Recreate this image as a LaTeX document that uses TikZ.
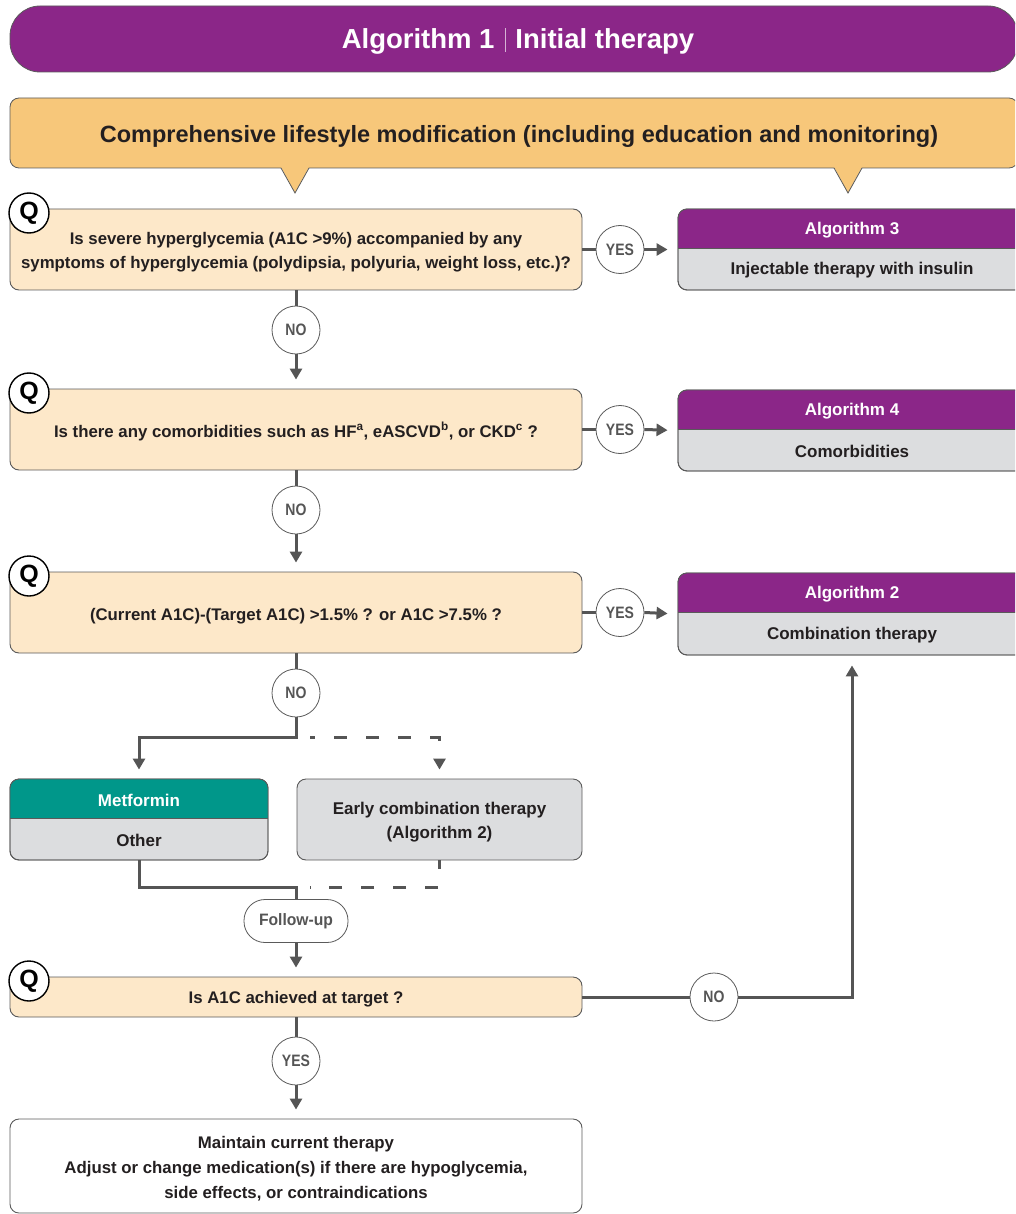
\documentclass[tikz,border=0pt]{standalone}
\usepackage{fontspec}
\setmainfont{Liberation Sans}
\usepackage{graphicx}
\usetikzlibrary{arrows.meta}
\definecolor{purp}{HTML}{8B2688}
\definecolor{orng}{HTML}{F7C77A}
\definecolor{peach}{HTML}{FDE8C9}
\definecolor{lgray}{HTML}{DCDDDF}
\definecolor{tealc}{HTML}{00978A}
\definecolor{lineg}{HTML}{555555}
\definecolor{bord}{HTML}{5A5A5A}
\definecolor{txt}{HTML}{231F20}
\newcommand{\cond}[1]{\scalebox{0.85}[1]{#1}}
\newcommand{\twobox}[9]{%
  \node[boxbase, minimum width={(#3)-(#2)}, minimum height={(#6)-(#4)}] (#1) at ({((#2)+(#3))/2},{((#4)+(#6))/2}) {};
  \begin{scope}
    \clip[rounded corners=9pt] (#2,#4) rectangle (#3,#6);
    \fill[#7] (#2,#4) rectangle (#3,#5);
  \end{scope}
  \draw[bord, line width=0.9pt] (#2,#5) -- (#3,#5);
  \draw[bord, line width=0.9pt, rounded corners=9pt] (#2,#4) rectangle (#3,#6);
  \node[hdtext] (#1-top) at ({((#2)+(#3))/2},{((#4)+(#5))/2+1.5}) {#8};
  \node[bdtext] (#1-bot) at ({((#2)+(#3))/2},{((#5)+(#6))/2+1.5}) {#9};
}
\begin{document}
\begin{tikzpicture}[x=1pt,y=-1pt,
  qbox/.style={draw=bord, line width=0.9pt, fill=peach, rounded corners=9pt, inner sep=0pt},
  qtext/.style={text=txt, font=\fontsize{16.8}{24}\selectfont\bfseries, align=center, inner sep=0pt},
  qmark/.style={circle, draw=black, line width=1.4pt, fill=white, minimum size=40pt, inner sep=0pt, font=\fontsize{25}{25}\selectfont\bfseries},
  lab/.style={circle, draw=bord, line width=0.8pt, fill=white, minimum size=48pt, inner sep=0pt, text=lineg, font=\fontsize{16.5}{16.5}\selectfont\bfseries},
  conn/.style={draw=lineg, line width=3pt},
  tip/.style={-{Triangle[length=11pt,width=12pt]}},
  dsh/.style={dash pattern=on 13pt off 19pt, dash phase=8pt},
  boxbase/.style={draw=bord, line width=0.9pt, fill=lgray, rounded corners=9pt, inner sep=0pt},
  hdtext/.style={text=white, font=\fontsize{17}{17}\selectfont\bfseries},
  bdtext/.style={text=txt, font=\fontsize{17}{17}\selectfont\bfseries},
  gtext/.style={text=txt, align=center, inner sep=0pt, font=\fontsize{17}{24}\selectfont\bfseries},
]
\path[use as bounding box] (0,0) rectangle (1015,1214);
\clip (0,0) rectangle (1015,1214);

% title banner
\node[draw=bord, line width=0.8pt, fill=purp, rounded corners=30pt, minimum width=1008pt, minimum height=66pt, inner sep=0pt] (banner) at (514,39) {};
\node[text=white, font=\fontsize{27.5}{27.5}\selectfont\bfseries] (titletxt) at (518,41)
  {Algorithm 1\hspace{10pt}{\color{white!65!purp}\rule[-4pt]{0.9pt}{24pt}}\hspace{10pt}Initial therapy};

% lifestyle box
\node[draw=bord, line width=0.8pt, fill=orng, rounded corners=9pt, minimum width=1008pt, minimum height=70pt, inner sep=0pt] (life) at (514,133) {};
\node[text=txt, font=\fontsize{23.5}{23.5}\selectfont\bfseries] (lifetxt) at (519,136.5) {Comprehensive lifestyle modification (including education and monitoring)};
\fill[orng] (281,167) -- (295,193) -- (309,167) -- cycle;
\draw[bord, line width=0.8pt] (281,168) -- (295,193) -- (309,168);
\fill[orng] (834,167) -- (848,193) -- (862,167) -- cycle;
\draw[bord, line width=0.8pt] (834,168) -- (848,193) -- (862,168);

% Q1
\node[qbox, minimum width=572pt, minimum height=81pt] (q1) at (296,249.5) {};
\node[qtext] (q1t) at (296,252.5)
  {Is severe hyperglycemia (A1C >9\%) accompanied by any\\symptoms of hyperglycemia (polydipsia, polyuria, weight loss, etc.)?};
\node[qmark] (qm1) at (29,213) {Q};
\node[lab] (y1) at (620,249.5) {\cond{YES}};
\twobox{a3}{678}{1026}{209}{248}{290}{purp}{Algorithm 3}{Injectable therapy with insulin}
\node[lab] (n1) at (296,330) {\cond{NO}};

% Q2
\node[qbox, minimum width=572pt, minimum height=81pt] (q2) at (296,429.5) {};
\node[qtext] (q2t) at (296,431.5)
  {Is there any comorbidities such as HF\textsuperscript{a}, eASCVD\textsuperscript{b}, or CKD\textsuperscript{c} ?};
\node[qmark] (qm2) at (29,393) {Q};
\node[lab] (y2) at (620,429.5) {\cond{YES}};
\twobox{a4}{678}{1026}{390}{429}{471}{purp}{Algorithm 4}{Comorbidities}
\node[lab] (n2) at (296,510) {\cond{NO}};

% Q3
\node[qbox, minimum width=572pt, minimum height=81pt] (q3) at (296,612.5) {};
\node[qtext] (q3t) at (296,616)
  {(Current A1C)-(Target A1C) >1.5\% ? or A1C >7.5\% ?};
\node[qmark] (qm3) at (29,576) {Q};
\node[lab] (y3) at (620,612.5) {\cond{YES}};
\twobox{a2}{678}{1026}{573}{612}{655}{purp}{Algorithm 2}{Combination therapy}
\node[lab] (n3) at (296,693) {\cond{NO}};

% options
\twobox{met}{10}{268}{779}{818}{860}{tealc}{Metformin}{Other}
\node[boxbase, minimum width=285pt, minimum height=81pt] (early) at (439.5,819.5) {};
\node[gtext] (earlyt) at (439.5,822.5) {Early combination therapy\\(Algorithm 2)};

% follow-up
\node[draw=bord, line width=0.8pt, fill=white, rounded corners=21pt, minimum width=104pt, minimum height=43pt, inner sep=0pt, text=lineg, font=\fontsize{16.5}{16.5}\selectfont\bfseries] (fu) at (296,921) {\raisebox{-2pt}{\scalebox{0.95}[1]{Follow-up}}};

% Q4
\node[qbox, minimum width=572pt, minimum height=40pt] (q4) at (296,997) {};
\node[qtext] (q4t) at (296,999) {Is A1C achieved at target ?};
\node[qmark] (qm4) at (29,981) {Q};
\node[lab] (n4) at (714,997) {\cond{NO}};
\node[lab] (y4) at (296,1061) {\cond{YES}};

% final
\node[draw=bord, line width=0.9pt, fill=white, rounded corners=9pt, minimum width=572pt, minimum height=94pt, inner sep=0pt] (fin) at (296,1166) {};
\node[qtext, font=\fontsize{16.8}{25}\selectfont\bfseries] (fint) at (296,1169)
  {Maintain current therapy\\Adjust or change medication(s) if there are hypoglycemia,\\side effects, or contraindications};

% connectors
\draw[conn] (q1.east) -- (y1.west);
\draw[conn, tip, shorten >=10pt] (y1.east) -- (a3.west);
\draw[conn] (q1.south) -- (n1.north);
\draw[conn, tip, shorten >=9pt] (n1.south) -- (q2.north);

\draw[conn] (q2.east) -- (y2.west);
\draw[conn, tip, shorten >=10pt] (y2.east) -- (a4.west);
\draw[conn] (q2.south) -- (n2.north);
\draw[conn, tip, shorten >=9pt] (n2.south) -- (q3.north);

\draw[conn] (q3.east) -- (y3.west);
\draw[conn, tip, shorten >=10pt] (y3.east) -- (a2.west);
\draw[conn] (q3.south) -- (n3.north);
\coordinate (j1) at (296,737);
\coordinate (j1d) at (310,737);
\draw[conn, tip, shorten >=9pt] (n3.south) -- (j1) -| (met.north);
\draw[conn, dsh, tip, shorten >=9pt] (j1d) -| (early.north);

\coordinate (j2) at (296,887);
\coordinate (j2d) at (310,887);
\draw[conn] (met.south) |- (j2) -- (fu.north);
\draw[conn, dsh, dash phase=4pt] (early.south) |- (j2d);
\draw[conn, tip, shorten >=9pt] (fu.south) -- (q4.north);

\draw[conn] (q4.east) -- (n4.west);
\draw[conn, tip, shorten >=10pt] (n4.east) -| (a2.south);
\draw[conn] (q4.south) -- (y4.north);
\draw[conn, tip, shorten >=9pt] (y4.south) -- (fin.north);
\end{tikzpicture}
\end{document}
